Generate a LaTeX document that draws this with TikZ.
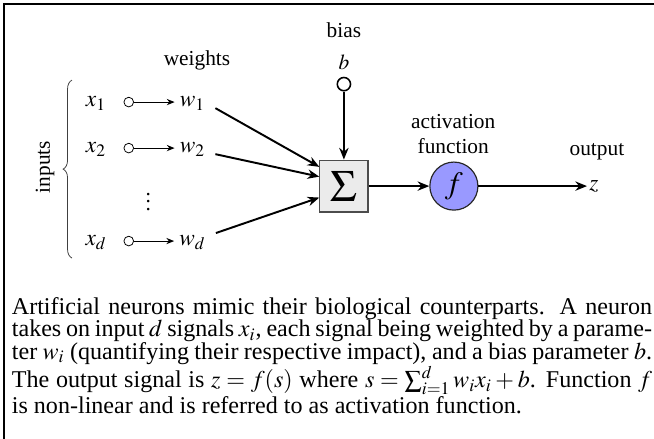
\documentclass[tikz,border=0pt]{standalone}
\usepackage{mathptmx}
\usepackage[no-math]{fontspec}
\setmainfont{Liberation Serif}
\usepackage{xcolor}
\usepackage{tikz}
\usetikzlibrary{arrows.meta,positioning,calc,decorations.pathreplacing}
\definecolor{actBlue}{HTML}{9999FF}
\definecolor{sumGray}{HTML}{EBEBEB}

\begin{document}
\begin{tikzpicture}[font=\fontsize{11}{13}\selectfont, >=Stealth,
  lbl/.style={inner sep=1pt,text height=5pt,text depth=0pt,font=\fontsize{12}{14}\selectfont},
  port/.style={circle,draw,line width=0.4pt,minimum size=1.75mm,inner sep=0pt},
  biasport/.style={circle,draw,line width=0.8pt,minimum size=2.4mm,inner sep=0pt},
  sumbox/.style={draw=black!70,fill=sumGray,line width=0.6pt,minimum width=8.7mm,minimum height=9.4mm,inner sep=0pt},
  actnode/.style={circle,draw=black!85,fill=actBlue,line width=0.6pt,minimum size=8.7mm,inner sep=0pt},
  feed/.style={-{Stealth[length=4pt,width=3.2pt]},line width=0.5pt},
  wire/.style={-{Stealth[length=6pt,width=4.8pt]},line width=1pt}]
\useasboundingbox (0,0) rectangle (11.84,7.93);
% --- frame ---
\draw[line width=1pt] (0.072,-0.1) -- (0.072,7.855) -- (12,7.855);
% --- inputs and weights ---
\node[lbl] (x1) at (1.738,6.082) {$x_1$};
\node[lbl] (x2) at (1.738,5.249) {$x_2$};
\node[lbl] (xd) at (1.738,3.566) {$x_d$};
\node[port] (p1) at (2.331,6.082) {};
\node[port] (p2) at (2.331,5.249) {};
\node[port] (pd) at (2.331,3.566) {};
\node[lbl] (w1) at (3.484,6.082) {$w_1$};
\node[lbl] (w2) at (3.484,5.249) {$w_2$};
\node[lbl] (wd) at (3.484,3.566) {$w_d$};
\draw[feed,shorten >=1.5pt] (p1) -- (w1);
\draw[feed,shorten >=1.5pt] (p2) -- (w2);
\draw[feed,shorten >=1.5pt] (pd) -- (wd);
\node (dots) at (2.685,4.38) {$\vdots$};
\node (weights) at (3.566,6.842) {weights};
\draw[decorate,decoration={brace,amplitude=1.6mm},line width=0.4pt,black!75]
  (1.303,3.258) -- (1.303,6.48);
\node[rotate=90] (inputs) at (0.815,4.905) {inputs};
% --- summation, bias ---
\node[sumbox] (sum) at (6.226,4.561) {\fontsize{23}{25}\selectfont$\Sigma$};
\node[biasport] (bc) at (6.226,6.407) {};
\node (b) at (6.226,6.806) {$b$};
\node (bias) at (6.226,7.385) {bias};
\draw[wire] (bc) -- (sum);
\draw[wire] (w1.east) ++(0.145,-0.11) -- (sum.142);
\draw[wire] (w2.east) ++(0.145,-0.11) -- (sum.159);
\draw[wire] (wd.east) ++(0.145,0.145) -- (sum.205);
% --- activation and output ---
\node[actnode] (f) at (8.217,4.561) {\fontsize{16}{18}\selectfont$f$};
\node[align=center] (act) at (8.205,5.499) {activation\\function};
\node[lbl] (z) at (10.751,4.561) {$z$};
\node (out) at (10.806,5.18) {output};
\draw[wire] (sum) -- (f);
\draw[wire] (f) -- (z);
% --- caption text ---
\node[anchor=base west,inner sep=0pt,text width=11.59cm,align=justify,
  font=\fontsize{12.4}{11.5}\selectfont] (cap) at (0.208,2.239)
 {\lineskiplimit=-6pt\relax
  Artificial neurons mimic their biological counterparts.  A neuron\linebreak
  takes on input $d$ signals $x_i$, each signal being weighted by a parame-\linebreak
  ter $w_i$ (quantifying their respective impact), and a bias parameter $b$.\linebreak
  The output signal is $z=f(s)$ where $s=\sum_{i=1}^{d}w_ix_i+b$. Function $f$\linebreak
  is non-linear and is referred to as activation function.};
\end{tikzpicture}
\end{document}
